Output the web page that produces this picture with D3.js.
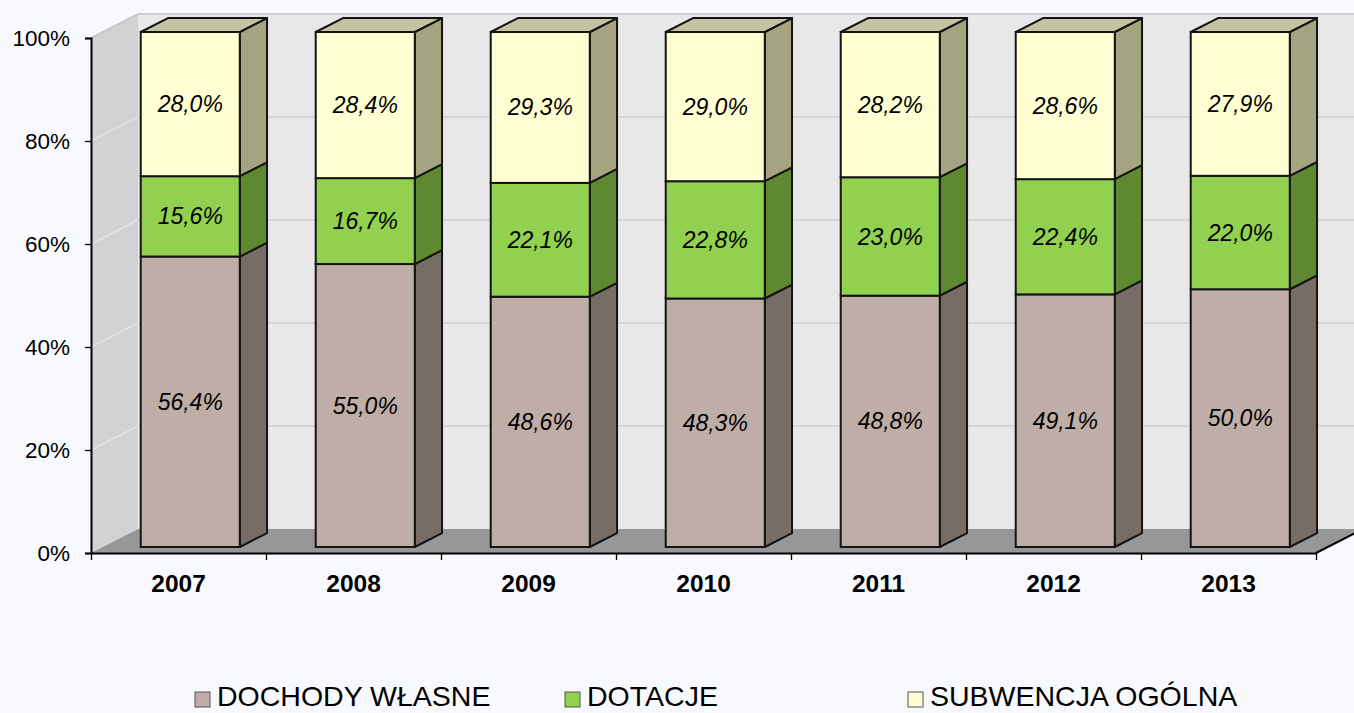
<!DOCTYPE html>
<html>
<head>
<meta charset="utf-8">
<script src="https://cdn.jsdelivr.net/npm/d3@7"></script>
<style>
	body { margin: 0; background: #f8f9fc; }
	svg { display: block; font-family: "Liberation Sans", Arial, sans-serif; }
</style>
</head>
<body>
<div id="chart"></div>
<script>
const years = ["2007", "2008", "2009", "2010", "2011", "2012", "2013"];
const seriesNames = ["DOCHODY WŁASNE", "DOTACJE", "SUBWENCJA OGÓLNA"];
const dochodyWlasne = [56.4, 55.0, 48.6, 48.3, 48.8, 49.1, 50.0];
const dotacje = [15.6, 16.7, 22.1, 22.8, 23.0, 22.4, 22.0];
const subwencja = [28.0, 28.4, 29.3, 29.0, 28.2, 28.6, 27.9];
const yTicks = [0, 0.2, 0.4, 0.6, 0.8, 1];

const width = 1354, height = 713;
const plot = { left: 91, right: 1316, top: 38, bottom: 553 };
const depth = { x: 47, y: -24 };
const barFront = 0.25, barBack = 0.83;

const colors = {
	front: ["#bfaea7", "#92d050", "#ffffd3"],
	side: ["#786c67", "#5e8931", "#a5a480"],
	top: ["#9a8c86", "#77ad40", "#c4c4a2"]
};

const table = years.map((year, i) => ({
	year,
	s0: dochodyWlasne[i],
	s1: dotacje[i],
	s2: subwencja[i],
	raw: [dochodyWlasne[i], dotacje[i], subwencja[i]]
}));

const stack = d3.stack()
	.keys(["s0", "s1", "s2"])
	.offset(d3.stackOffsetExpand);
const stacked = stack(table);

const x = d3.scaleBand()
	.domain(years)
	.range([plot.left, plot.right])
	.paddingInner(0.434)
	.paddingOuter(0.217);

const edge = d3.scaleLinear()
	.domain([0, years.length])
	.range([plot.left, plot.right]);

const y = d3.scaleLinear()
	.domain([0, 1])
	.range([plot.bottom, plot.top]);

const off = t => [depth.x * t, depth.y * t];
const fmt = v => d3.format(".1f")(v).replace(".", ",") + "%";

const svg = d3.select("#chart").append("svg")
	.attr("width", width)
	.attr("height", height)
	.attr("viewBox", `0 0 ${width} ${height}`);

svg.append("rect")
	.attr("width", width)
	.attr("height", height)
	.attr("fill", "#f8f9fc");

// walls
const back = off(1);
const walls = svg.append("g").attr("class", "walls");

walls.append("rect")
	.attr("x", plot.left + back[0])
	.attr("y", plot.top + back[1])
	.attr("width", plot.right - plot.left + 10)
	.attr("height", plot.bottom - plot.top)
	.attr("fill", "#e8e8e8");

walls.append("polygon")
	.attr("points", [
		[plot.left, plot.top],
		[plot.left + back[0], plot.top + back[1]],
		[plot.left + back[0], plot.bottom + back[1]],
		[plot.left, plot.bottom]
	].join(" "))
	.attr("fill", "#d1d2d4");

walls.selectAll("line.grid")
	.data(yTicks.filter(d => d > 0))
	.enter()
	.append("line")
		.attr("class", "grid")
		.attr("x1", plot.left + back[0])
		.attr("x2", width + 20)
		.attr("y1", d => y(d) + back[1])
		.attr("y2", d => y(d) + back[1])
		.attr("stroke", d => d === 1 ? "#cfcfcf" : "#d6d6d6")
		.attr("stroke-width", 2);

walls.selectAll("line.sidegrid")
	.data(yTicks.filter(d => d > 0))
	.enter()
	.append("line")
		.attr("class", "sidegrid")
		.attr("x1", plot.left)
		.attr("x2", plot.left + back[0])
		.attr("y1", d => y(d))
		.attr("y2", d => y(d) + back[1])
		.attr("stroke", d => d === 1 ? "#c4c4c4" : "#e2e2e2")
		.attr("stroke-width", 1.5);

// floor
walls.append("polygon")
	.attr("points", [
		[plot.left, plot.bottom],
		[plot.right, plot.bottom],
		[plot.right + back[0], plot.bottom + back[1]],
		[plot.left + back[0], plot.bottom + back[1]]
	].join(" "))
	.attr("fill", "#979797");

walls.append("line")
	.attr("x1", plot.right)
	.attr("y1", plot.bottom)
	.attr("x2", plot.right + back[0])
	.attr("y2", plot.bottom + back[1])
	.attr("stroke", "#000")
	.attr("stroke-width", 2);

// axes
const yAxis = svg.append("g")
	.attr("transform", `translate(${plot.left}, 0)`)
	.call(d3.axisLeft(y).tickValues(yTicks).tickFormat(d => Math.round(d * 100) + "%").tickSize(6).tickPadding(15));

const xTicks = svg.append("g")
	.attr("transform", `translate(0, ${plot.bottom})`)
	.call(d3.axisBottom(edge).tickValues(d3.range(years.length + 1)).tickFormat("").tickSize(7).tickSizeOuter(0));

const xAxis = svg.append("g")
	.attr("transform", `translate(0, ${plot.bottom})`)
	.call(d3.axisBottom(x).tickSize(0).tickPadding(22));

[yAxis, xTicks].forEach(g => {
	g.select(".domain").attr("stroke", "#000").attr("stroke-width", 2);
	g.selectAll(".tick line").attr("stroke", "#000").attr("stroke-width", 1.3);
});
xAxis.select(".domain").remove();

yAxis.selectAll("text")
	.attr("fill", "#000")
	.style("font-size", "22.5px");

xAxis.selectAll("text")
	.attr("fill", "#000")
	.style("font-size", "24.5px")
	.style("font-weight", "bold");

// bars
const f = off(barFront), b = off(barBack);
const bars = svg.append("g").attr("class", "bars");

stacked.forEach((layer, si) => {
	layer.forEach((d, i) => {
		const x0 = x(years[i]) + f[0];
		const x1 = x0 + x.bandwidth();
		const yTop = y(d[1]) + f[1];
		const yBot = y(d[0]) + f[1];
		const dx = b[0] - f[0], dy = b[1] - f[1];
		const g = bars.append("g");

		g.append("polygon")
			.attr("points", [[x1, yBot], [x1 + dx, yBot + dy], [x1 + dx, yTop + dy], [x1, yTop]].join(" "))
			.attr("fill", colors.side[si])
			.attr("stroke", "#141414")
			.attr("stroke-width", 2)
			.attr("stroke-linejoin", "round");

		if (si === stacked.length - 1) {
			g.append("polygon")
				.attr("points", [[x0, yTop], [x0 + dx, yTop + dy], [x1 + dx, yTop + dy], [x1, yTop]].join(" "))
				.attr("fill", colors.top[si])
				.attr("stroke", "#141414")
				.attr("stroke-width", 2)
				.attr("stroke-linejoin", "round");
		}

		g.append("rect")
			.attr("x", x0)
			.attr("y", yTop)
			.attr("width", x.bandwidth())
			.attr("height", yBot - yTop)
			.attr("fill", colors.front[si])
			.attr("stroke", "#141414")
			.attr("stroke-width", 2);

		g.append("text")
			.attr("x", (x0 + x1) / 2)
			.attr("y", (yTop + yBot) / 2)
			.attr("dy", "0.35em")
			.attr("text-anchor", "middle")
			.style("font-size", "23px")
			.style("font-style", "italic")
			.text(fmt(d.data.raw[si]));
	});
});

// legend
const legendX = [195, 565, 908];
const legend = svg.append("g")
	.attr("class", "legend")
	.selectAll("g")
	.data(seriesNames)
	.enter()
	.append("g")
		.attr("transform", (d, i) => `translate(${legendX[i]}, 706)`);

legend.append("rect")
	.attr("x", 0)
	.attr("y", -14)
	.attr("width", 15)
	.attr("height", 15)
	.attr("fill", (d, i) => colors.front[i])
	.attr("stroke", "#555")
	.attr("stroke-width", 1);

legend.append("text")
	.attr("x", 22)
	.style("font-size", "28.5px")
	.text(d => d);
</script>
</body>
</html>
